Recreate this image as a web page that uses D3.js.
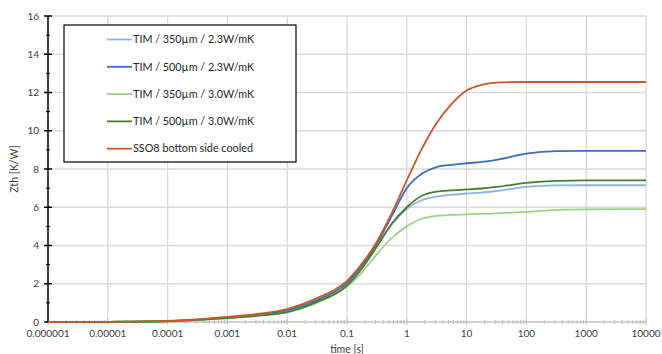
<!DOCTYPE html>
<html>
<head>
<meta charset="utf-8">
<script src="https://cdn.jsdelivr.net/npm/d3@7"></script>
<style>
  body { margin: 0; background: #fff; }
  svg { display: block; font-family: Lato, "Open Sans", sans-serif; }
</style>
</head>
<body>
<svg id="chart" width="662" height="354"></svg>
<script>
// time axis points [s] (read at quarter / half decades)
var time = [1e-6, 1e-5, 1e-4, 1e-3, 3.16e-3, 1e-2, 3.16e-2, 0.1, 0.178, 0.316, 0.562,
            1, 1.78, 3.16, 5.62, 10, 17.8, 31.6, 100, 316, 1000, 3162, 10000];

var seriesNames = ["TIM / 350\u00b5m / 2.3W/mK", "TIM / 500\u00b5m / 2.3W/mK",
                   "TIM / 350\u00b5m / 3.0W/mK", "TIM / 500\u00b5m / 3.0W/mK",
                   "SSO8 bottom side cooled"];
var seriesColors = ["#8fb3e6", "#3a6fc4", "#9fd08a", "#4a7d2c", "#c8582a"];

var tim350_23 = [0, 0.01, 0.05, 0.23, 0.37, 0.6, 1.1, 2.0, 2.85, 3.95, 5.1,
                 5.9, 6.38, 6.55, 6.65, 6.72, 6.77, 6.85, 7.06, 7.14, 7.15, 7.15, 7.15];
var tim500_23 = [0, 0.01, 0.05, 0.24, 0.38, 0.62, 1.15, 2.05, 2.95, 4.1, 5.55,
                 7.0, 7.75, 8.1, 8.22, 8.3, 8.37, 8.48, 8.8, 8.93, 8.95, 8.95, 8.95];
var tim350_30 = [0, 0.01, 0.04, 0.2, 0.32, 0.5, 1.0, 1.85, 2.6, 3.55, 4.4,
                 5.0, 5.4, 5.55, 5.6, 5.63, 5.65, 5.68, 5.76, 5.86, 5.89, 5.9, 5.9];
var tim500_30 = [0, 0.01, 0.04, 0.21, 0.33, 0.52, 1.05, 1.9, 2.8, 3.95, 5.15,
                 6.0, 6.6, 6.82, 6.88, 6.93, 6.98, 7.06, 7.27, 7.38, 7.41, 7.41, 7.41];
var sso8 = [0, 0.01, 0.06, 0.27, 0.42, 0.68, 1.25, 2.15, 3.05, 4.2, 5.7,
            7.4, 9.05, 10.4, 11.4, 12.1, 12.4, 12.52, 12.55, 12.55, 12.55, 12.55, 12.55];

var allSeries = [tim350_23, tim500_23, tim350_30, tim500_30, sso8];

var xTicks = [1e-6, 1e-5, 1e-4, 1e-3, 1e-2, 1e-1, 1, 10, 100, 1000, 10000];
var xTickLabels = ["0.000001", "0.00001", "0.0001", "0.001", "0.01", "0.1", "1", "10", "100", "1000", "10000"];
var yTicks = [0, 2, 4, 6, 8, 10, 12, 14, 16];

var svg = d3.select("#chart");
var margin = {left: 48, right: 16, top: 16, bottom: 32};
var W = 662, H = 354;

var x = d3.scaleLog().domain([1e-6, 1e4]).range([margin.left, W - margin.right]);
var y = d3.scaleLinear().domain([0, 16]).range([H - margin.bottom, margin.top]);

var grid = svg.append("g");
grid.selectAll(".hg").data(yTicks.slice(1)).enter().append("line")
    .attr("x1", margin.left).attr("x2", W - margin.right)
    .attr("y1", function (d) { return y(d); }).attr("y2", function (d) { return y(d); })
    .attr("stroke", "#d9d9d9").attr("stroke-width", 1.3);
grid.selectAll(".vg").data(xTicks.slice(1)).enter().append("line")
    .attr("x1", function (d) { return x(d); }).attr("x2", function (d) { return x(d); })
    .attr("y1", margin.top).attr("y2", H - margin.bottom)
    .attr("stroke", "#d9d9d9").attr("stroke-width", 1.3);

// x axis: gray baseline with log minor ticks
var minor = [];
for (var e = -6; e < 4; e++) {
    for (var k = 2; k < 10; k++) minor.push(k * Math.pow(10, e));
}
var xAxis = svg.append("g").attr("transform", "translate(0," + y(0) + ")");
xAxis.append("line").attr("x1", margin.left).attr("x2", W - margin.right)
    .attr("stroke", "#bfbfbf").attr("stroke-width", 1.3);
xAxis.selectAll(".mt").data(minor).enter().append("line")
    .attr("x1", function (d) { return x(d); }).attr("x2", function (d) { return x(d); })
    .attr("y1", -2).attr("y2", 2).attr("stroke", "#bfbfbf");
xAxis.selectAll(".Mt").data(xTicks).enter().append("line")
    .attr("x1", function (d) { return x(d); }).attr("x2", function (d) { return x(d); })
    .attr("y1", -3).attr("y2", 3).attr("stroke", "#bfbfbf");
xAxis.selectAll("text").data(xTicks).enter().append("text")
    .attr("x", function (d) { return x(d); }).attr("y", 15)
    .attr("text-anchor", "middle").attr("font-size", 10).attr("fill", "#404040")
    .text(function (d, i) { return xTickLabels[i]; });

// y axis: black line with major + minor ticks
var yAxis = svg.append("g").attr("transform", "translate(" + margin.left + ",0)");
yAxis.append("line").attr("y1", y(0)).attr("y2", y(16)).attr("stroke", "#000").attr("stroke-width", 1.5);
yAxis.selectAll(".ym").data(d3.range(1, 16, 2)).enter().append("line")
    .attr("x1", -2).attr("x2", 2)
    .attr("y1", function (d) { return y(d); }).attr("y2", function (d) { return y(d); })
    .attr("stroke", "#000");
yAxis.selectAll(".yM").data(yTicks).enter().append("line")
    .attr("x1", -4).attr("x2", 4)
    .attr("y1", function (d) { return y(d); }).attr("y2", function (d) { return y(d); })
    .attr("stroke", "#000").attr("stroke-width", 1.5);
yAxis.selectAll("text").data(yTicks).enter().append("text")
    .attr("x", -9).attr("y", function (d) { return y(d) + 3.5; })
    .attr("text-anchor", "end").attr("font-size", 10).attr("fill", "#404040")
    .text(function (d) { return d; });

svg.append("text").attr("transform", "translate(18," + ((y(0) + y(16)) / 2) + ") rotate(-90)")
    .attr("text-anchor", "middle").attr("font-size", 10.5).attr("fill", "#404040")
    .text("Zth [K/W]");
svg.append("text").attr("x", x(0.1)).attr("y", 353)
    .attr("text-anchor", "middle").attr("font-size", 10.5).attr("fill", "#404040")
    .text("time [s]");

var line = d3.line()
    .x(function (d, i) { return x(time[i]); })
    .y(function (d) { return y(d); })
    .curve(d3.curveMonotoneX);

svg.append("g").selectAll("path").data(allSeries).enter().append("path")
    .attr("d", line)
    .attr("fill", "none")
    .attr("stroke", function (d, i) { return seriesColors[i]; })
    .attr("stroke-width", 1.8);

// legend
var lg = svg.append("g");
lg.append("rect").attr("x", 64).attr("y", 25).attr("width", 232).attr("height", 137)
    .attr("fill", "#fff").attr("stroke", "#000").attr("stroke-width", 1.2);
var rows = lg.selectAll(".row").data(seriesNames).enter().append("g")
    .attr("transform", function (d, i) { return "translate(0," + (39.5 + i * 27.3) + ")"; });
rows.append("line").attr("x1", 107).attr("x2", 132)
    .attr("stroke", function (d, i) { return seriesColors[i]; }).attr("stroke-width", 1.8);
rows.append("text").attr("x", 133).attr("y", 3.7).attr("font-size", 10.8).attr("fill", "#262626")
    .text(function (d) { return d; });
</script>
</body>
</html>
